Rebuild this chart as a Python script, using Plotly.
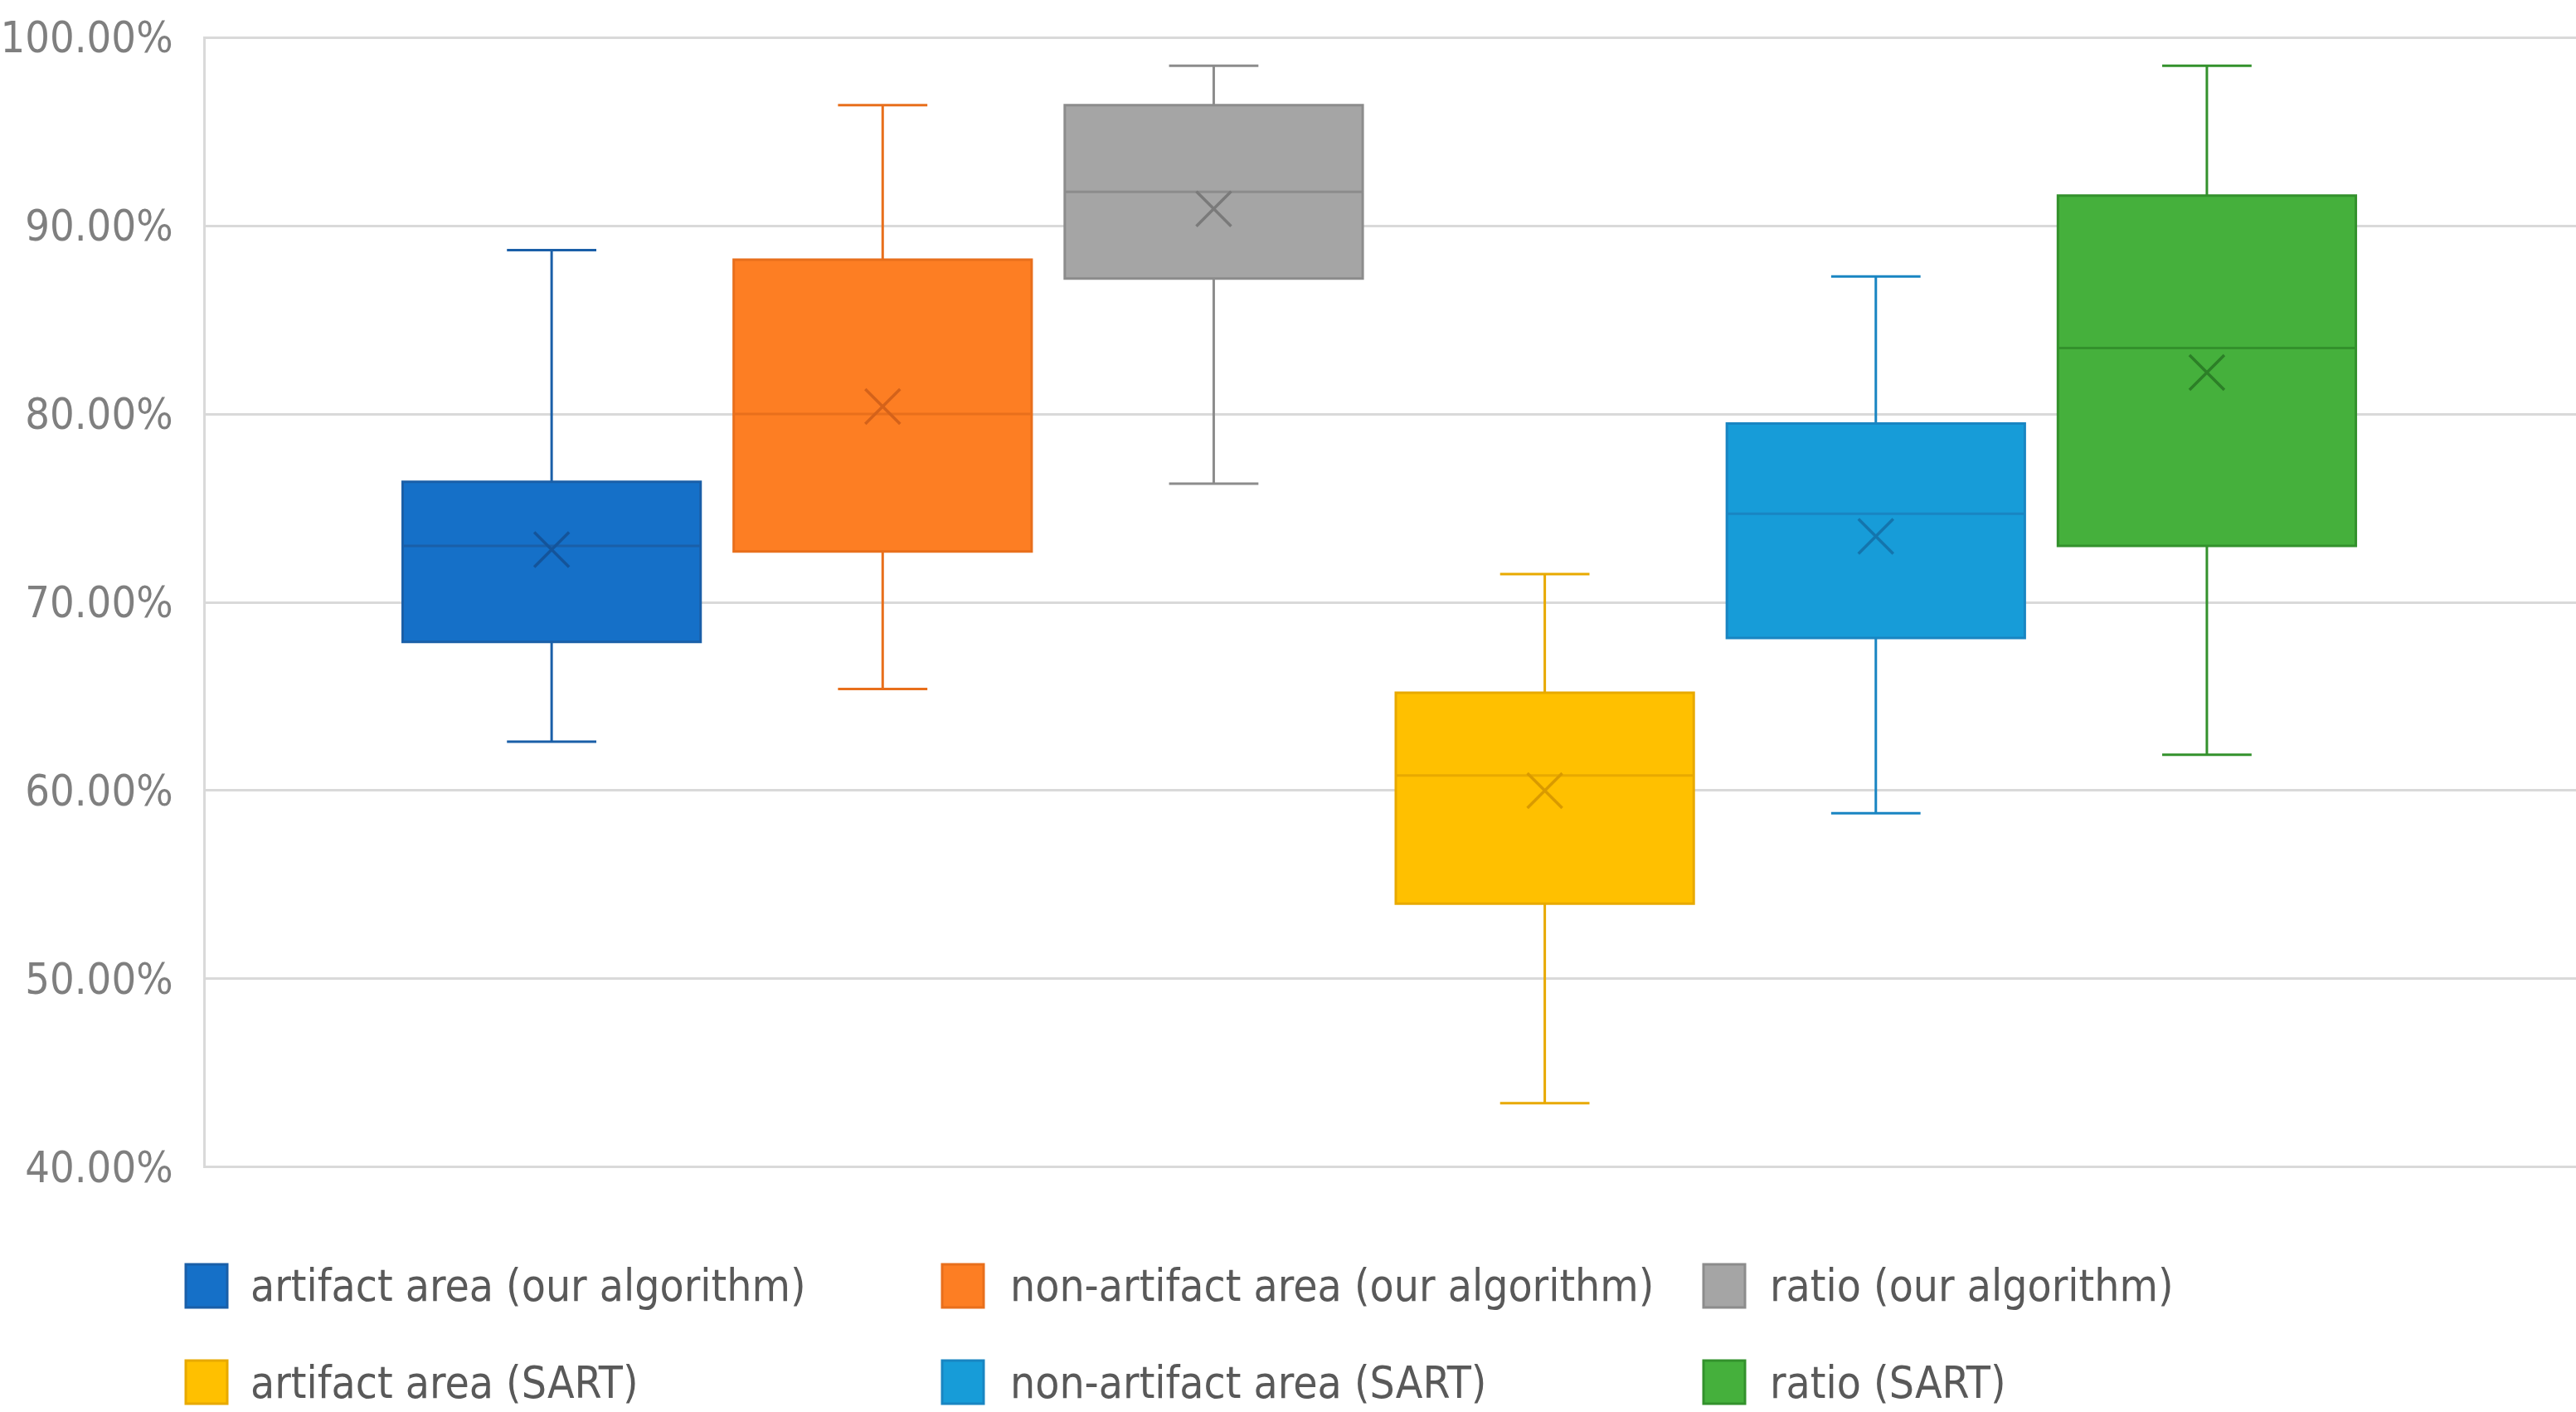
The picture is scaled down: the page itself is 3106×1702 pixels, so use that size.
import plotly.graph_objects as go

# ---- data ----
series = [
    "artifact area (our algorithm)",
    "non-artifact area (our algorithm)",
    "ratio (our algorithm)",
    "artifact area (SART)",
    "non-artifact area (SART)",
    "ratio (SART)",
]
upper = [0.887, 0.964, 0.985, 0.715, 0.873, 0.985]
q3 = [0.764, 0.882, 0.964, 0.652, 0.795, 0.916]
median = [0.730, 0.800, 0.918, 0.608, 0.747, 0.835]
mean = [0.728, 0.804, 0.909, 0.600, 0.735, 0.822]
q1 = [0.679, 0.727, 0.872, 0.540, 0.681, 0.730]
lower = [0.626, 0.654, 0.763, 0.434, 0.588, 0.619]
y_ticks = [0.4, 0.5, 0.6, 0.7, 0.8, 0.9, 1.0]

# ---- styles ----
fills = ["#1570c8", "#fd7e23", "#a5a5a5", "#ffc000", "#179cd8", "#45b03c"]
lines = ["#1a5fa8", "#e86f1c", "#8c8c8c", "#e8a900", "#1985c2", "#33912c"]
marks = ["#14549a", "#d4621a", "#7a7a7a", "#d99a00", "#1475ad", "#2c7f27"]

W, H = 3106, 1702
L, R, T, B = 248, 0, 44, 294
TXT = "#595959"
GRID = "#d9d9d9"
NARROW = "Liberation Sans Narrow, DejaVu Sans Condensed, Arial Narrow, sans-serif"


def px2x(px):
    return (px - L) / (W - L - R)


def py2y(py):
    return (H - B - py) / (H - T - B)


fig = go.Figure()
for i, name in enumerate(series):
    fig.add_trace(go.Box(
        x=[i], q1=[q1[i]], median=[median[i]], q3=[q3[i]],
        lowerfence=[lower[i]], upperfence=[upper[i]],
        name=name, width=0.9, whiskerwidth=0.3,
        fillcolor=fills[i], line=dict(color=lines[i], width=3),
        boxpoints=False, showlegend=False, hoverinfo="skip",
    ))

fig.add_trace(go.Scatter(
    x=list(range(len(series))), y=mean, mode="markers",
    marker=dict(symbol="x-thin", size=42, color=marks,
                line=dict(width=3.5, color=marks)),
    showlegend=False, hoverinfo="skip",
))

# manual legend (2 rows x 3 columns)
col_sq = [224, 1136, 2054]
col_txt = [300, 1216, 2132]
row_y = [1550, 1666]
shapes = []
annotations = []
for i, name in enumerate(series):
    r, c = divmod(i, 3)
    cy = row_y[r]
    shapes.append(dict(
        type="rect", xref="paper", yref="paper",
        x0=px2x(col_sq[c]), x1=px2x(col_sq[c] + 50),
        y0=py2y(cy + 26), y1=py2y(cy - 26),
        fillcolor=fills[i], line=dict(color=lines[i], width=3),
    ))
    annotations.append(dict(
        x=px2x(col_txt[c]), y=py2y(cy), xref="paper", yref="paper",
        text=name, showarrow=False, xanchor="left", yanchor="middle",
        font=dict(family=NARROW, size=53, color=TXT),
    ))

fig.update_layout(
    width=W, height=H,
    margin=dict(l=L, r=R, t=T, b=B, autoexpand=False),
    paper_bgcolor="white", plot_bgcolor="white",
    shapes=shapes, annotations=annotations,
    showlegend=False,
)
fig.update_xaxes(range=[-1.045, 6.115], showticklabels=False, showgrid=False,
                 zeroline=False, showline=False, ticks="", automargin=False)
fig.update_yaxes(range=[0.3995, 1.0005], tickvals=y_ticks, tickformat=".2%",
                 showgrid=True, gridcolor=GRID, gridwidth=3,
                 zeroline=False, showline=True, linecolor=GRID, linewidth=3,
                 ticks="", ticklabelstandoff=26, automargin=False,
                 tickfont=dict(family=NARROW, size=52, color="#7f7f7f"))

fig.write_html("out.html", config={"displayModeBar": False},
               post_script="document.body.style.margin='0';")
